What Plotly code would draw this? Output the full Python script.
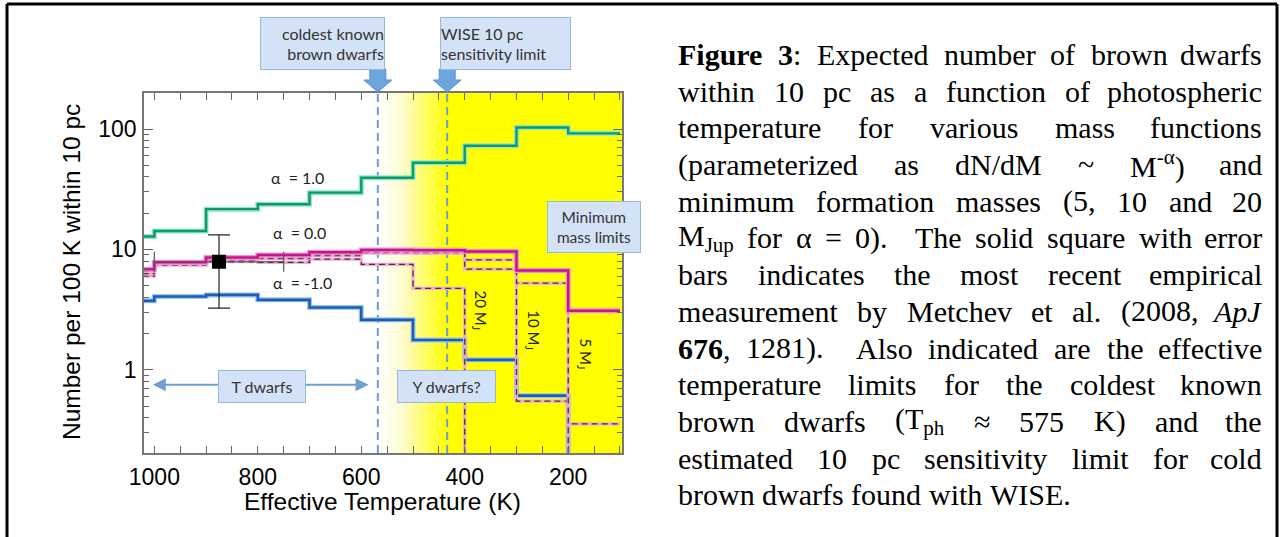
import re
import numpy as np
import plotly.graph_objects as go

# ---------------- data ----------------
T_EDGES = [1100, 1000, 900, 800, 700, 600, 500, 400, 300, 200, 100]
ALPHA_P1 = [12.8, 14.2, 21.6, 23.7, 29.6, 39.4, 52.5, 72.6, 103, 92]
ALPHA_0 = [6.85, 7.83, 8.55, 9.0, 9.48, 9.9, 9.85, 9.6, 6.67, 3.1]
ALPHA_0_5MJ = [6.6, 7.7, 8.4, 8.7, 9.2, 9.5, 9.4, 8.2, 5.25, 0.355]
ALPHA_0_10MJ = [6.3, 7.6, 8.2, 8.4, 8.9, 9.3, 9.3, 6.85, 0.55, 0]
ALPHA_0_20MJ = [6.0, 7.4, 7.9, 7.8, 8.3, 7.5, 4.75, 0, 0, 0]
ALPHA_M1 = [3.74, 4.06, 4.19, 3.81, 3.29, 2.6, 1.77, 1.21, 0.61, 0]

MEAS_T = [875]
MEAS_N = [7.9]
MEAS_T_ERR = [125]
MEAS_N_HI = [13.2]
MEAS_N_LO = [3.25]

COLDEST_T = 568
WISE_T = 434
T_DWARF_SPAN = [1003, 583]
T_DWARF_Y = 0.75

X_RANGE = [1020, 96]
Y_RANGE = [-0.691, 2.299]
X_TICKS = [1000, 800, 600, 400, 200]
Y_TICKS = [1, 10, 100]

CAPTION_LINES = [
    "<b>Figure</b> <b>3</b>: Expected number of brown dwarfs",
    "within 10 pc as a function of photospheric",
    "temperature for various mass functions",
    "(parameterized as dN/dM ~ M<sup>-α</sup>) and",
    "minimum formation masses (5, 10 and 20",
    "M<sub>Jup</sub> for α = 0).  The solid square with error",
    "bars indicates the most recent empirical",
    "measurement by Metchev et al. (2008, <i>ApJ</i>",
    "<b>676</b>, 1281).  Also indicated are the effective",
    "temperature limits for the coldest known",
    "brown dwarfs (T<sub>ph</sub> ≈ 575 K) and the",
    "estimated 10 pc sensitivity limit for cold",
    "brown dwarfs found with WISE.",
]

# ---------------- geometry helpers ----------------
W, H = 1281, 537
ML, MR, MT, MB = 144, 1281 - 622, 93, 537 - 453
PW, PH = W - ML - MR, H - MT - MB


def px2x(px):
    return (px - ML) / PW


def py2y(py):
    return (H - MB - py) / PH


FLOOR = 1e-3
YLO, YHI = 10 ** Y_RANGE[0], 10 ** Y_RANGE[1]


def steps(vals):
    v = [x if x > 0 else FLOOR for x in vals]
    return T_EDGES, v + [v[-1]]


fig = go.Figure()

# background: white -> yellow gradient, then solid yellow
frac = (WISE_T - X_RANGE[1]) / (COLDEST_T - X_RANGE[1])
fig.add_trace(go.Scatter(
    x=[COLDEST_T, X_RANGE[1], X_RANGE[1], COLDEST_T, COLDEST_T],
    y=[YLO, YLO, YHI, YHI, YLO],
    mode="lines", line=dict(width=0), fill="toself",
    fillgradient=dict(type="horizontal",
                      colorscale=[[0, "#ffffff"], [0.35 * (1 - frac), "#fffbd0"],
                                  [1 - frac, "#ffff00"], [1, "#ffff00"]]),
    hoverinfo="skip", showlegend=False))

# vertical dashed limits
for t in (COLDEST_T, WISE_T):
    fig.add_trace(go.Scatter(x=[t, t], y=[YLO, YHI], mode="lines",
                             line=dict(color="#6b9dd8", width=2, dash="8px,5px"),
                             hoverinfo="skip", showlegend=False))


def add_glow(vals, halo, core, hw, cw, dash=None):
    x, y = steps(vals)
    fig.add_trace(go.Scatter(x=x, y=y, mode="lines", line_shape="hv",
                             line=dict(color=halo, width=hw),
                             hoverinfo="skip", showlegend=False))
    fig.add_trace(go.Scatter(x=x, y=y, mode="lines", line_shape="hv",
                             line=dict(color=core, width=cw, dash=dash),
                             hoverinfo="skip", showlegend=False))


add_glow(ALPHA_P1, "#8fe8c6", "#10996c", 5, 2.4)
add_glow(ALPHA_M1, "#9cc6f2", "#1b5fb5", 5, 2.6)
for vals in (ALPHA_0_20MJ, ALPHA_0_10MJ, ALPHA_0_5MJ):
    add_glow(vals, "#f7a6da", "#3a3a3a", 3.2, 1.3, dash="6px,4px")
add_glow(ALPHA_0, "#f28fd0", "#c4178a", 5, 2.5)

# measurement with error bars
fig.add_trace(go.Scatter(
    x=MEAS_T, y=MEAS_N, mode="markers",
    marker=dict(symbol="square", size=14, color="black"),
    error_y=dict(type="data", symmetric=False,
                 array=[h - n for h, n in zip(MEAS_N_HI, MEAS_N)],
                 arrayminus=[n - l for l, n in zip(MEAS_N_LO, MEAS_N)],
                 color="#222", thickness=1.2, width=11),
    error_x=dict(type="data", array=MEAS_T_ERR, color="#555", thickness=1.2, width=10),
    hoverinfo="skip", showlegend=False))

axis_font = dict(family="Liberation Sans, Arial, sans-serif", size=23, color="black")
minor_y = [m * 10 ** d for d in (-1, 0, 1, 2) for m in range(2, 10)
           if Y_RANGE[0] < np.log10(m * 10 ** d) < Y_RANGE[1]]

fig.update_xaxes(range=X_RANGE, tickvals=X_TICKS, ticktext=[str(t) for t in X_TICKS],
                 ticks="inside", ticklen=7, tickwidth=1.2, tickcolor="#666",
                 minor=dict(dtick=50, tick0=0, ticks="inside", ticklen=7, tickwidth=1.2,
                            tickcolor="#666", showgrid=False),
                 showline=True, linecolor="#777", linewidth=1.5, mirror="ticks",
                 showgrid=False, zeroline=False, tickfont=axis_font, ticklabelstandoff=3)
fig.update_yaxes(type="log", range=Y_RANGE, tickvals=Y_TICKS, ticktext=[str(t) for t in Y_TICKS],
                 ticks="inside", ticklen=9, tickwidth=1.2, tickcolor="#666",
                 minor=dict(tickvals=minor_y, ticks="inside", ticklen=5, tickwidth=1.2,
                            tickcolor="#666", showgrid=False),
                 showline=True, linecolor="#777", linewidth=1.5, mirror="ticks",
                 showgrid=False, zeroline=False, tickfont=axis_font, ticklabelstandoff=1)

ann = []
title_font = dict(family="Liberation Sans, Arial, sans-serif", size=24.5, color="black")
ann.append(dict(text="Effective Temperature (K)", xref="paper", yref="paper",
                x=px2x(382), y=py2y(501), xanchor="center", yanchor="middle",
                showarrow=False, font=title_font))
ann.append(dict(text="Number per 100 K within 10 pc", xref="paper", yref="paper",
                x=px2x(71), y=py2y(272), xanchor="center", yanchor="middle",
                textangle=-90, showarrow=False, font=title_font))

# alpha labels
lab_font = dict(family="Lato, sans-serif", size=16, color="#222")
for txt, t, n in (("α  = 1.0", 723, 39.2), ("α  = 0.0", 719, 13.8), ("α  = -1.0", 714, 5.27)):
    ann.append(dict(text=txt, x=t, y=np.log10(n), xref="x", yref="y",
                    showarrow=False, font=lab_font))

# minimum mass labels (rotated)
for txt, t, n in (("20 M<sub>J</sub>", 370, 3.09), ("10 M<sub>J</sub>", 267, 2.15),
                  ("5 M<sub>J</sub>", 167, 1.36)):
    ann.append(dict(text=txt, x=t, y=np.log10(n), xref="x", yref="y", textangle=90,
                    showarrow=False, font=dict(family="Lato, sans-serif", size=15, color="#222")))

# T dwarfs double arrow
ly = float(np.log10(T_DWARF_Y))
ann.append(dict(text="", x=T_DWARF_SPAN[0], y=ly, ax=T_DWARF_SPAN[1], ay=ly,
                xref="x", yref="y", axref="x", ayref="y",
                showarrow=True, arrowside="end+start", arrowhead=2, startarrowhead=2,
                arrowsize=1.3, startarrowsize=1.3, arrowwidth=2, arrowcolor="#6f9fd3"))

box_font = dict(family="Lato, sans-serif", size=16, color="#333")


def box(text, cx, cy, w, h, align="center", size=16):
    ann.append(dict(text=text, xref="paper", yref="paper", x=px2x(cx), y=py2y(cy),
                    xanchor="center", yanchor="middle", width=w, height=h, align=align,
                    showarrow=False, bgcolor="#d3e2f6", bordercolor="#96b7e2",
                    borderwidth=1, borderpad=0, font=dict(box_font, size=size)))


box("coldest known<br>brown dwarfs", 322.5, 43.3, 123, 51, align="right")
box("WISE 10 pc<br>sensitivity limit", 505, 43.3, 129, 51, align="left")
box("Minimum<br>mass limits", 594, 227, 92, 50, size=15.5)
box("T dwarfs", 262, 386, 86, 31)
box("Y dwarfs?", 446, 386, 97, 31)

# block arrows below the boxes
shapes = []
arrow_path = "M -8 24 L 8 24 L 8 13 L 14 13 L 0 1 L -14 13 L -8 13 Z"
for t in (COLDEST_T, WISE_T):
    shapes.append(dict(type="path", xref="x", yref="paper", xsizemode="pixel",
                       ysizemode="pixel", xanchor=t, yanchor=1, path=arrow_path,
                       fillcolor="#6ea5dc", line=dict(color="#5b93cf", width=1)))

# outer frame
for (x0, y0, x1, y1) in ((7, 4, 1277, 4), (7, 4, 7, 545), (1277, 4, 1277, 545)):
    shapes.append(dict(type="line", xref="paper", yref="paper", x0=px2x(x0), y0=py2y(y0),
                       x1=px2x(x1), y1=py2y(y1), line=dict(color="black", width=3)))

# ---------------- caption (justified) ----------------
TIMES = {' ': 250, '(': 333, ')': 333, ',': 250, '-': 333, '.': 250, '/': 278, ':': 278,
         '=': 564, '~': 541, 'α': 520, '≈': 549,
         'A': 722, 'B': 667, 'C': 667, 'D': 722, 'E': 611, 'F': 556, 'G': 722, 'H': 722,
         'I': 333, 'J': 389, 'K': 722, 'L': 611, 'M': 889, 'N': 722, 'O': 722, 'P': 556,
         'Q': 722, 'R': 667, 'S': 556, 'T': 611, 'U': 722, 'V': 722, 'W': 944, 'X': 722,
         'Y': 722, 'Z': 611,
         'a': 444, 'b': 500, 'c': 444, 'd': 500, 'e': 444, 'f': 333, 'g': 500, 'h': 500,
         'i': 278, 'j': 278, 'k': 500, 'l': 278, 'm': 778, 'n': 500, 'o': 500, 'p': 500,
         'q': 500, 'r': 333, 's': 389, 't': 278, 'u': 500, 'v': 500, 'w': 722, 'x': 500,
         'y': 500, 'z': 444}
TIMES_B = {'F': 611, 'i': 278, 'g': 500, 'u': 556, 'r': 444, 'e': 444}
TIMES_I = {'A': 611, 'p': 500, 'J': 444}


def text_width(word, fs):
    bold = italic = False
    scale = 1.0
    w = 0
    for tok in re.split(r'(<[^>]+>)', word):
        if not tok:
            continue
        if tok.startswith('<'):
            t = tok.lower()
            if t == '<b>':
                bold = True
            elif t == '</b>':
                bold = False
            elif t == '<i>':
                italic = True
            elif t == '</i>':
                italic = False
            elif t in ('<sub>', '<sup>'):
                scale = 0.7
            elif t in ('</sub>', '</sup>'):
                scale = 1.0
            continue
        for ch in tok:
            table = TIMES_B if bold else (TIMES_I if italic else TIMES)
            w += table.get(ch, TIMES.get(ch, 500)) * scale
    return w / 1000 * fs


CAP_FS = 30
CAP_L, CAP_R = 677, 1263
CAP_BASE0, CAP_PITCH = 64.3, 36.7
cap_font = dict(family="Liberation Serif, Times New Roman, serif", size=CAP_FS, color="black")
for i, line in enumerate(CAPTION_LINES):
    words = line.split(' ')
    widths = [text_width(wd, CAP_FS) for wd in words]
    last = i == len(CAPTION_LINES) - 1
    if last:
        gap = 0.25 * CAP_FS
    else:
        gap = (CAP_R - CAP_L - sum(widths)) / (len(words) - 1)
    cy = CAP_BASE0 + i * CAP_PITCH - 0.33 * CAP_FS
    xpos = CAP_L
    for k, (wd, ww) in enumerate(zip(words, widths)):
        if wd:
            if k == len(words) - 1 and not last:
                ann.append(dict(text=wd, xref="paper", yref="paper", x=px2x(CAP_R), y=py2y(cy),
                                xanchor="right", yanchor="middle", showarrow=False,
                                font=cap_font, borderpad=0))
            else:
                ann.append(dict(text=wd, xref="paper", yref="paper", x=px2x(xpos), y=py2y(cy),
                                xanchor="left", yanchor="middle", showarrow=False,
                                font=cap_font, borderpad=0))
        xpos += ww + gap

fig.update_layout(width=W, height=H, margin=dict(l=ML, r=MR, t=MT, b=MB, pad=0),
                  paper_bgcolor="white", plot_bgcolor="white",
                  annotations=ann, shapes=shapes, showlegend=False)

fig.write_html("out.html", config={"displayModeBar": False},
               post_script="document.body.style.margin='0';document.body.style.overflow='hidden';")
